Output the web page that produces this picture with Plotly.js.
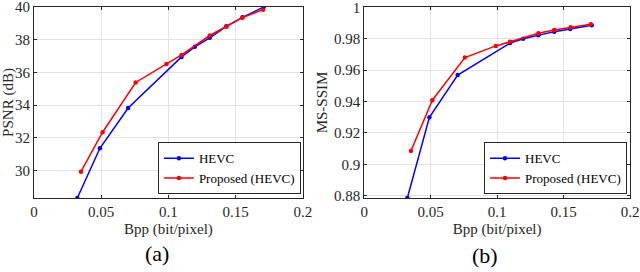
<!DOCTYPE html>
<html>
<head>
<meta charset="utf-8">
<script src="https://cdn.plot.ly/plotly-3.0.1.min.js"></script>
<style>html,body{margin:0;padding:0;background:#fff;}#chart{width:640px;height:272px;}</style>
</head>
<body>
<div id="chart"></div>
<script>
// (a) PSNR
const hevcA_x = [0.0322, 0.049, 0.070, 0.1097, 0.1196, 0.1307, 0.143, 0.155, 0.1708];
const hevcA_y = [28.33, 31.37, 33.83, 36.95, 37.57, 38.12, 38.82, 39.37, 40.0];
const propA_x = [0.0349, 0.051, 0.0756, 0.0985, 0.1097, 0.1307, 0.143, 0.155, 0.1703];
const propA_y = [29.94, 32.35, 35.39, 36.52, 37.07, 38.26, 38.8, 39.35, 39.84];
// (b) MS-SSIM
const hevcB_x = [0.0324, 0.049, 0.0703, 0.1097, 0.1196, 0.131, 0.143, 0.155, 0.1712];
const hevcB_y = [0.8785, 0.9299, 0.9568, 0.9772, 0.9800, 0.9822, 0.9845, 0.9862, 0.9885];
const propB_x = [0.0351, 0.0512, 0.0757, 0.0990, 0.1097, 0.131, 0.143, 0.1554, 0.1705];
const propB_y = [0.9084, 0.9408, 0.9680, 0.9754, 0.9780, 0.9835, 0.9855, 0.9873, 0.9892];

const names = ["HEVC", "Proposed (HEVC)"];
const xTicks = [0, 0.05, 0.1, 0.15, 0.2];
const xTickText = ["0", "0.05", "0.1", "0.15", "0.2"];
const yTicksA = [30, 32, 34, 36, 38, 40];
const yTickTextA = ["30", "32", "34", "36", "38", "40"];
const yTicksB = [0.88, 0.9, 0.92, 0.94, 0.96, 0.98, 1];
const yTickTextB = ["0.88", "0.9", "0.92", "0.94", "0.96", "0.98", "1"];

const BLUE = "#0000ff", RED = "#ff0000";
function tr(x, y, name, color, xa, ya, leg) {
  return {x: x, y: y, name: name, type: "scatter", mode: "lines+markers",
    line: {color: color, width: 1.5}, marker: {color: color, size: 4.5, symbol: "circle"},
    xaxis: xa, yaxis: ya, legend: leg, cliponaxis: true};
}
const data = [
  tr(hevcA_x, hevcA_y, names[0], BLUE, "x", "y", "legend"),
  tr(propA_x, propA_y, names[1], RED, "x", "y", "legend"),
  tr(hevcB_x, hevcB_y, names[0], BLUE, "x2", "y2", "legend2"),
  tr(propB_x, propB_y, names[1], RED, "x2", "y2", "legend2")
];
const FONT = "'Liberation Serif', 'Times New Roman', serif";
const TF = {family: FONT, size: 15, color: "#262626"};
const axisCommon = {showline: true, linecolor: "#262626", linewidth: 1, mirror: "ticks",
  ticks: "inside", ticklen: 3, tickcolor: "#262626", showgrid: true, gridcolor: "#e3e3e3",
  zeroline: false, tickfont: TF, tickmode: "array", ticklabeloverflow: "allow"};
const xCommon = Object.assign({}, axisCommon, {range: [0, 0.2], tickvals: xTicks, ticktext: xTickText,
  title: {text: "Bpp (bit/pixel)", font: TF, standoff: 4}});
const legCommon = {bordercolor: "#262626", borderwidth: 1, bgcolor: "#fff",
  font: {family: FONT, size: 13, color: "#000"}, xanchor: "right", yanchor: "bottom",
  tracegroupgap: 0, itemwidth: 30};
const layout = {
  width: 640, height: 272, margin: {l: 34, r: 10, t: 7, b: 74},
  font: {family: FONT, color: "#262626"},
  paper_bgcolor: "#fff", plot_bgcolor: "#fff", showlegend: true,
  xaxis: Object.assign({}, xCommon, {domain: [0, 0.4513], anchor: "y"}),
  xaxis2: Object.assign({}, xCommon, {domain: [0.5542, 1], anchor: "y2"}),
  yaxis: Object.assign({}, axisCommon, {domain: [0, 1], anchor: "x", range: [28.33, 40.002],
    tickvals: yTicksA, ticktext: yTickTextA,
    title: {text: "PSNR (dB)", font: TF, standoff: 2}}),
  yaxis2: Object.assign({}, axisCommon, {domain: [0, 1], anchor: "x2", range: [0.8785, 1.0002],
    tickvals: yTicksB, ticktext: yTickTextB,
    title: {text: "MS-SSIM", font: TF, standoff: 2}}),
  legend: Object.assign({}, legCommon, {x: 0.4478, y: 0.02}),
  legend2: Object.assign({}, legCommon, {x: 0.995, y: 0.02}),
  annotations: [
    {text: "(a)", xref: "paper", yref: "paper", x: 0.2064, y: -0.29, showarrow: false,
      font: {family: FONT, size: 22, color: "#000"}, xanchor: "center", yanchor: "middle"},
    {text: "(b)", xref: "paper", yref: "paper", x: 0.757, y: -0.30, showarrow: false,
      font: {family: FONT, size: 22, color: "#000"}, xanchor: "center", yanchor: "middle"}
  ]
};
Plotly.newPlot("chart", data, layout, {staticPlot: true, displayModeBar: false});
</script>
</body>
</html>
